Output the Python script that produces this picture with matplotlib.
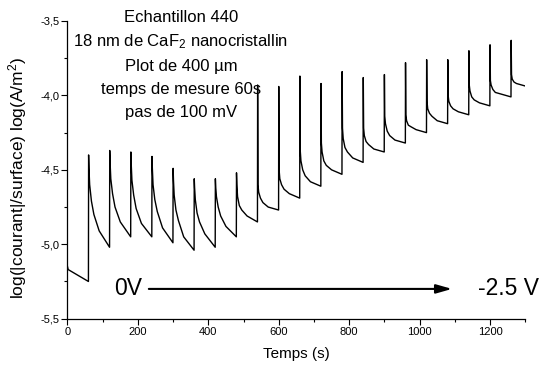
import numpy as np
import matplotlib
matplotlib.use("Agg")
import matplotlib.pyplot as plt
from matplotlib.ticker import MultipleLocator, FuncFormatter

plt.rcParams['font.family'] = ['Liberation Sans', 'DejaVu Sans']
plt.rcParams['mathtext.fontset'] = 'custom'
plt.rcParams['mathtext.rm'] = 'Liberation Sans'

# baseline before the first voltage step (0 V)
base_t = [0, 2, 59.5]
base_v = [-5.15, -5.17, -5.25]

# each step: start time (s), then log values at offsets tau after the step
step_start = [60, 120, 180, 240, 300, 360, 420, 480, 540, 600, 660,
              720, 780, 840, 900, 960, 1020, 1080, 1140, 1200, 1260]
tau = [0, 1, 3, 8, 15, 30, 59.5]
step_values = [
    [-4.40, -4.49, -4.60, -4.71, -4.80, -4.91, -5.02],
    [-4.37, -4.45, -4.56, -4.66, -4.75, -4.85, -4.95],
    [-4.38, -4.46, -4.57, -4.67, -4.76, -4.86, -4.95],
    [-4.41, -4.49, -4.60, -4.70, -4.78, -4.89, -4.99],
    [-4.49, -4.57, -4.67, -4.77, -4.84, -4.95, -5.04],
    [-4.56, -4.62, -4.70, -4.79, -4.85, -4.93, -5.02],
    [-4.56, -4.62, -4.68, -4.75, -4.81, -4.88, -4.95],
    [-4.52, -4.60, -4.68, -4.74, -4.77, -4.81, -4.85],
    [-3.93, -4.60, -4.65, -4.69, -4.72, -4.75, -4.77],
    [-3.94, -4.50, -4.56, -4.60, -4.63, -4.66, -4.69],
    [-3.87, -4.37, -4.44, -4.50, -4.54, -4.58, -4.61],
    [-3.92, -4.32, -4.38, -4.44, -4.47, -4.50, -4.53],
    [-3.84, -4.22, -4.29, -4.35, -4.38, -4.42, -4.45],
    [-3.88, -4.22, -4.27, -4.31, -4.33, -4.36, -4.38],
    [-3.86, -4.14, -4.19, -4.24, -4.27, -4.30, -4.32],
    [-3.78, -4.13, -4.17, -4.20, -4.21, -4.23, -4.25],
    [-3.76, -4.04, -4.09, -4.12, -4.14, -4.17, -4.19],
    [-3.76, -4.00, -4.04, -4.07, -4.09, -4.11, -4.13],
    [-3.70, -3.93, -3.97, -4.01, -4.03, -4.05, -4.07],
    [-3.66, -3.90, -3.93, -3.96, -3.98, -3.99, -4.01],
    [-3.63, -3.86, -3.89, -3.91, -3.92, -3.93, -3.95],
]

info_lines = ["Echantillon 440",
              "18 nm de CaF$\\mathregular{_2}$ nanocristallin",
              "Plot de 400 µm",
              "temps de mesure 60s",
              "pas de 100 mV"]

t = np.concatenate([base_t] + [s + np.array(tau) for s in step_start])
v = np.concatenate([base_v] + step_values)

fig = plt.figure(figsize=(5.42, 3.72), dpi=100)
ax = fig.add_axes([0.1245, 0.1433, 0.8446, 0.8003])
ax.plot(t, v, color='black', lw=1.0)

ax.set_xlim(0, 1300)
ax.set_ylim(-5.5, -3.5)
ax.spines['top'].set_visible(False)
ax.spines['right'].set_visible(False)
for s in ['left', 'bottom']:
    ax.spines[s].set_linewidth(0.9)

ax.xaxis.set_major_locator(MultipleLocator(200))
ax.xaxis.set_minor_locator(MultipleLocator(100))
ax.yaxis.set_major_locator(MultipleLocator(0.5))
ax.yaxis.set_minor_locator(MultipleLocator(0.25))
ax.yaxis.set_major_formatter(FuncFormatter(lambda y, p: f"{y:.1f}".replace('.', ',')))
ax.tick_params(which='major', direction='out', length=4, width=0.8, labelsize=8, pad=2)
ax.tick_params(which='minor', direction='out', length=2.5, width=0.8)

ax.set_xlabel("Temps (s)", fontsize=11, labelpad=7)
ax.set_ylabel("log(|courant|/surface) log(A/m$\\mathregular{^2}$)", fontsize=12.5)
ax.yaxis.set_label_coords(-0.083, 0.473)

# sample info block
for line, yb in zip(info_lines, [-3.505, -3.673, -3.836, -3.993, -4.144]):
    ax.text(322, yb, line, fontsize=12, ha='center', va='baseline')

# voltage sweep arrow
ax.annotate('', xy=(1092, -5.30), xytext=(231, -5.30),
            arrowprops=dict(arrowstyle='-|>,head_length=0.95,head_width=0.27',
                            mutation_scale=10, color='black', lw=1.5,
                            shrinkA=0, shrinkB=0))
ax.text(211, -5.30, "0V", fontsize=16.5, ha='right', va='center')
ax.text(1166, -5.30, "-2.5 V", fontsize=16.5, ha='left', va='center')

fig.savefig("out.png", dpi=100)
